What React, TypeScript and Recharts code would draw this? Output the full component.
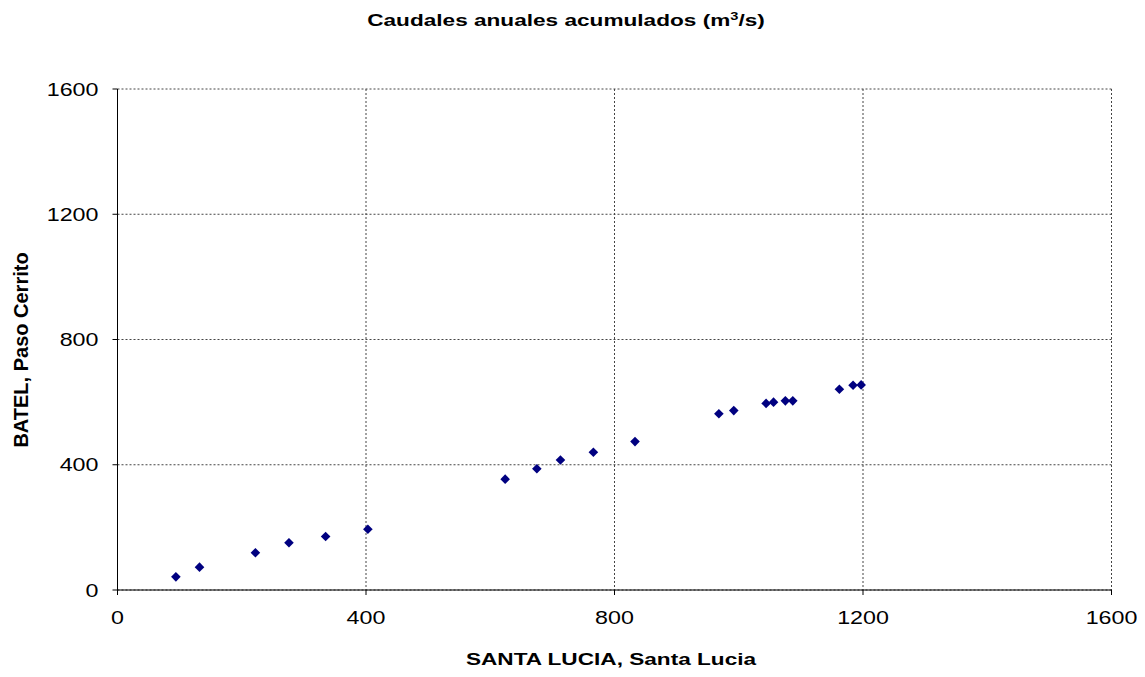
import React from "react";
import { ScatterChart, Scatter, XAxis, YAxis, CartesianGrid } from "recharts";

// Santa Lucia (x) vs Batel, Paso Cerrito (y), accumulated annual flows
const santaLucia = [94, 132, 222, 276, 335, 403, 624, 675, 713, 766, 833, 968, 992, 1044, 1056, 1075, 1087, 1162, 1184, 1197];
const batel = [42, 73, 119, 151, 171, 194, 354, 387, 415, 440, 474, 563, 573, 596, 600, 604, 604, 641, 654, 655];
const ticks = [0, 400, 800, 1200, 1600];

const points = santaLucia.map((x, i) => ({ x, y: batel[i] }));

const FONT = "'Liberation Sans', Arial, sans-serif";
const STRETCH = 1.33; // the source text is drawn wide

function Diamond(props: any) {
  const { cx, cy } = props;
  if (cx == null || cy == null) return null;
  const r = 4.8;
  return (
    <polygon
      points={`${cx},${cy - r} ${cx + r},${cy} ${cx},${cy + r} ${cx - r},${cy}`}
      fill="#000080"
    />
  );
}

function WideText({ x, y, anchor, size, bold, children }: any) {
  return (
    <text
      transform={`translate(${x},${y}) scale(${STRETCH},1)`}
      textAnchor={anchor}
      fontSize={size}
      fontWeight={bold ? "bold" : "normal"}
      fontFamily={FONT}
      fill="#000"
    >
      {children}
    </text>
  );
}

const XTick = (props: any) => (
  <WideText x={props.x} y={props.y + 27} anchor="middle" size={17.5}>
    {props.payload.value}
  </WideText>
);

const YTick = (props: any) => (
  <WideText x={props.x - 12} y={props.y + 6.5} anchor="end" size={17.5}>
    {props.payload.value}
  </WideText>
);

export default function App() {
  return (
    <div style={{ position: "relative", width: 1145, height: 677, margin: -8, background: "#fff" }}>
      <div style={{ position: "absolute", top: 0, left: 0 }}>
        <ScatterChart width={1145} height={677} margin={{ top: 89, right: 33.5, bottom: 57, left: 57.5 }}>
          <CartesianGrid stroke="#444" strokeDasharray="2 2" strokeWidth={1} />
          <XAxis
            type="number"
            dataKey="x"
            domain={[0, 1600]}
            ticks={ticks}
            height={30}
            stroke="#000"
            tickSize={5}
            tick={<XTick />}
          />
          <YAxis
            type="number"
            dataKey="y"
            domain={[0, 1600]}
            ticks={ticks}
            width={60}
            stroke="#000"
            tickSize={5}
            tick={<YTick />}
          />
          <Scatter data={points} shape={<Diamond />} isAnimationActive={false} />
        </ScatterChart>
      </div>
      <svg width={1145} height={677} style={{ position: "absolute", top: 0, left: 0, pointerEvents: "none" }}>
        <WideText x={566} y={26} anchor="middle" size={17} bold>
          Caudales anuales acumulados (m
          <tspan fontSize={11} dy={-6}>3</tspan>
          <tspan dy={6}>/s)</tspan>
        </WideText>
        <WideText x={611} y={665} anchor="middle" size={17} bold>
          SANTA LUCIA, Santa Lucia
        </WideText>
        <text
          transform="translate(28,350) rotate(-90)"
          textAnchor="middle"
          fontSize={20}
          fontWeight="bold"
          fontFamily={FONT}
          fill="#000"
        >
          BATEL, Paso Cerrito
        </text>
      </svg>
    </div>
  );
}
